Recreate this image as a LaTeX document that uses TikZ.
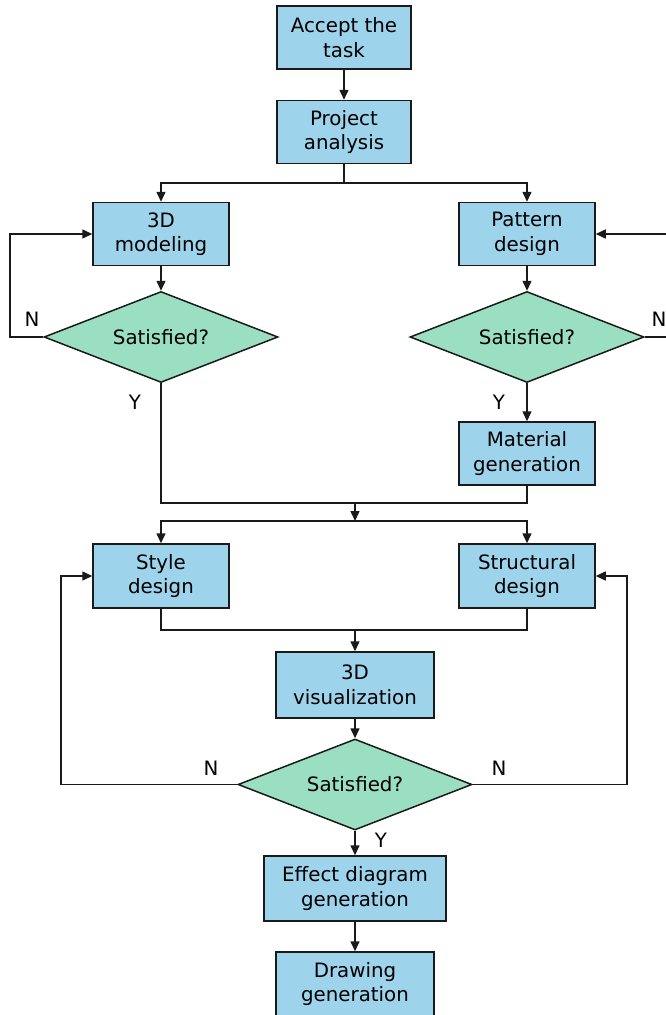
\documentclass[tikz,border=0pt]{standalone}
\usepackage{fontspec}
\setmainfont{DejaVu Sans}
\usetikzlibrary{shapes.geometric,arrows.meta}
\definecolor{boxfill}{RGB}{158,211,236}
\definecolor{decfill}{RGB}{154,223,194}
\definecolor{linec}{RGB}{26,26,26}
\begin{document}
\begin{tikzpicture}[x=1pt,y=-1pt,
  font=\fontsize{19.8}{24.5}\selectfont,
  proc/.style={draw=linec, fill=boxfill, line width=1.5pt, minimum height=63pt, align=center, inner sep=2pt},
  dec/.style={diamond, draw=linec, fill=decfill, line width=1.5pt, aspect=2.57, inner sep=0pt, minimum width=234pt, minimum height=91pt},
  arr/.style={draw=linec, line width=1.5pt, -{Triangle[length=10pt,width=9pt]}},
  lin/.style={draw=linec, line width=1.5pt},
  lbl/.style={inner sep=0pt}]
\path[use as bounding box, clip] (0,0) rectangle (666,1015);
\fill[white] (0,0) rectangle (666,1015);

\node[proc, minimum width=134pt] (accept) at (344,37.5) {Accept the\\task};
\node[proc, minimum width=134pt] (project) at (344,132) {Project\\analysis};
\node[proc, minimum width=136pt] (model) at (161,234) {3D\\modeling};
\node[proc, minimum width=136pt] (pattern) at (527,234) {Pattern\\design};
\node[dec] (d1) at (161,337) {Satisfied?};
\node[dec] (d2) at (527,337) {Satisfied?};
\node[proc, minimum width=136pt] (material) at (527,453.5) {Material\\generation};
\node[proc, minimum width=136pt, minimum height=64pt] (style) at (161,576) {Style\\design};
\node[proc, minimum width=136pt, minimum height=64pt] (struct) at (527,576) {Structural\\design};
\node[proc, minimum width=158pt, minimum height=66pt] (vis) at (355,685) {3D\\visualization};
\node[dec] (d3) at (355,784.5) {Satisfied?};
\node[proc, minimum width=182pt, minimum height=65pt] (effect) at (355,888.5) {Effect diagram\\generation};
\node[proc, minimum width=158pt, minimum height=64pt] (drawing) at (355,984) {Drawing\\generation};

\coordinate (b1) at (344,183);
\coordinate (m1) at (355,503);
\coordinate (b2) at (355,521);
\coordinate (m2) at (355,630);
\coordinate (l1) at (10,337);
\coordinate (r1) at (690,337);
\coordinate (l3) at (61,784.5);
\coordinate (r3) at (627,784.5);

\draw[arr] (accept) -- (project);
\draw[lin] (project) -- (b1);
\draw[arr] (b1) -| (model);
\draw[arr] (b1) -| (pattern);
\draw[arr] (model) -- (d1);
\draw[arr] (pattern) -- (d2);
\draw[arr] (d1.west) -- (l1) |- (model.west);
\draw[arr] (d2.east) -- (r1) |- (pattern.east);
\draw[arr] (d2) -- (material);
\draw[lin] (d1.south) |- (m1);
\draw[lin] (material.south) |- (m1);
\draw[arr] (m1) -- (b2);
\draw[arr] (b2) -| (style);
\draw[arr] (b2) -| (struct);
\draw[lin] (style.south) |- (m2);
\draw[lin] (struct.south) |- (m2);
\draw[arr] (m2) -- (vis);
\draw[arr] (vis) -- (d3);
\draw[arr] (d3.west) -- (l3) |- (style.west);
\draw[arr] (d3.east) -- (r3) |- (struct.east);
\draw[arr] (d3) -- (effect);
\draw[arr] (effect) -- (drawing);

\node[lbl] (n1) at (32,319) {N};
\node[lbl] (n2) at (659,319) {N};
\node[lbl] (y1) at (135,402) {Y};
\node[lbl] (y2) at (499,402) {Y};
\node[lbl] (n3) at (211,768) {N};
\node[lbl] (n4) at (499,768) {N};
\node[lbl] (y3) at (381,840) {Y};
\end{tikzpicture}
\end{document}
